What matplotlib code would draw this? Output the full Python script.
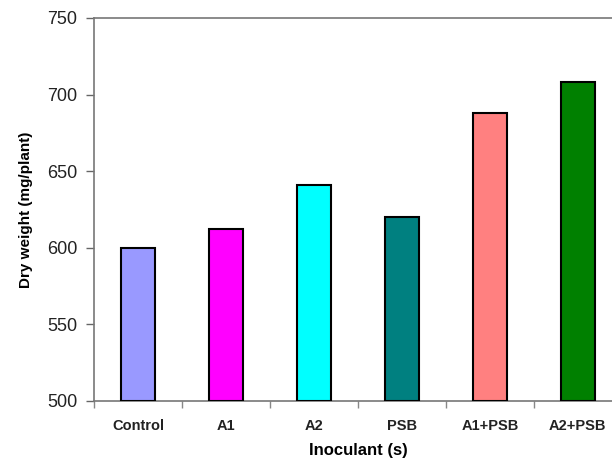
import numpy as np
import matplotlib.pyplot as plt

plt.rcParams['font.family'] = ['Liberation Sans', 'DejaVu Sans']

treatments = ['Control', 'A1', 'A2', 'PSB', 'A1+PSB', 'A2+PSB']
dry_weight = [600, 612, 641, 620, 688, 708]
bar_colors = ['#9999ff', '#ff00ff', '#00ffff', '#008080', '#ff8080', '#008000']
y_ticks = [500, 550, 600, 650, 700, 750]

fig = plt.figure(figsize=(6.12, 4.59), dpi=100)
ax = fig.add_axes([0.1536, 0.1264, 0.8624, 0.8344])

x = np.arange(len(treatments))
ax.bar(x, [v - 500 for v in dry_weight], bottom=500, width=0.39,
       color=bar_colors, edgecolor='black', linewidth=1.5, zorder=3)

ax.set_xlim(-0.5, len(treatments) - 0.5)
ax.set_ylim(500, 750)
ax.set_yticks(y_ticks)
ax.set_yticklabels([str(v) for v in y_ticks], fontsize=13, color='#222222')

# category labels centred, tick marks on category boundaries
ax.set_xticks(x)
ax.set_xticklabels(treatments, fontsize=10.5, fontweight='bold', color='#222222')
ax.tick_params(axis='x', length=0, pad=13)
ax.set_xticks(np.arange(len(treatments) + 1) - 0.5, minor=True)
ax.tick_params(axis='x', which='minor', length=5, color='#888888', width=1)
ax.tick_params(axis='y', length=6, color='#666666', width=1, pad=6)

for side in ['left', 'top', 'bottom', 'right']:
    ax.spines[side].set_color('#777777')
    ax.spines[side].set_linewidth(1.2)

ax.set_ylabel('Dry weight (mg/plant)', fontsize=11, fontweight='bold', labelpad=10)
ax.set_xlabel('Inoculant (s)', fontsize=12, fontweight='bold', labelpad=7)

fig.savefig('out.png', dpi=100)
